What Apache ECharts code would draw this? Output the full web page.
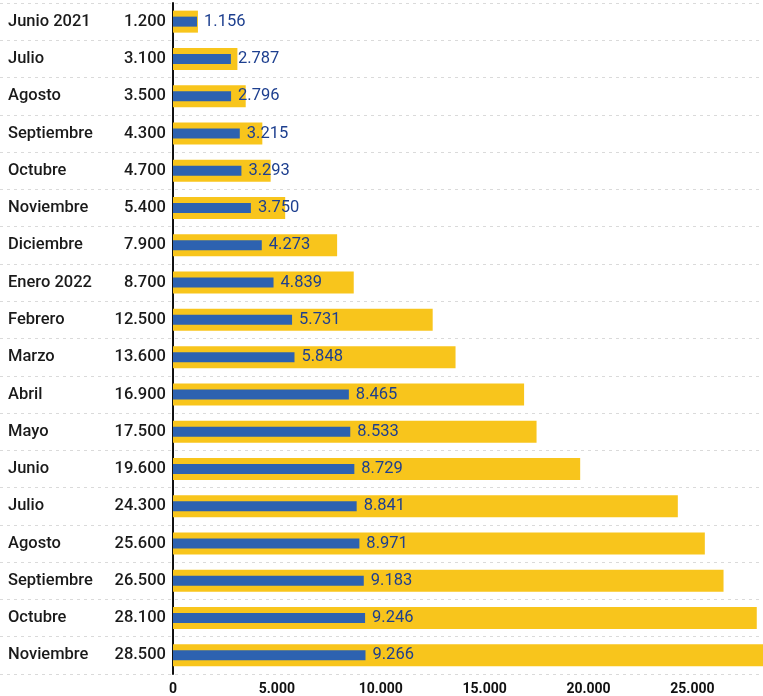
<!DOCTYPE html>
<html><head><meta charset="utf-8">
<script src="https://cdn.jsdelivr.net/npm/echarts@6/dist/echarts.min.js"></script>
<style>html,body{margin:0;padding:0;background:#fff}#c{width:763px;height:696px}</style>
</head><body><div id="c"></div>
<script>
const categories = ['Junio 2021','Julio','Agosto','Septiembre','Octubre','Noviembre','Diciembre','Enero 2022','Febrero','Marzo','Abril','Mayo','Junio','Julio','Agosto','Septiembre','Octubre','Noviembre'];
const yellowValues = [1200,3100,3500,4300,4700,5400,7900,8700,12500,13600,16900,17500,19600,24300,25600,26500,28100,28500];
const blueValues = [1156,2787,2796,3215,3293,3750,4273,4839,5731,5848,8465,8533,8729,8841,8971,9183,9246,9266];
const xTicks = [0,5000,10000,15000,20000,25000];

const fmt = v => String(v).replace(/\B(?=(\d{3})+(?!\d))/g, '.');
const FONT = 'Roboto';
const chart = echarts.init(document.getElementById('c'));
chart.setOption({
  animation:false,
  grid:[
    {left:173,right:0,top:3,bottom:22,containLabel:false},
    {left:0,right:0,top:3,bottom:22,containLabel:false}
  ],
  xAxis:[
    {type:'value',gridIndex:0,min:0,max:28400,interval:5000,
     axisLine:{show:false},axisTick:{show:false},splitLine:{show:false},
     axisLabel:{showMaxLabel:false,margin:8,color:'#111',fontFamily:FONT,fontWeight:'bold',fontSize:14,
       formatter:v=>xTicks.includes(v)?fmt(v):''}},
    {type:'value',gridIndex:1,show:false,min:0,max:1}
  ],
  yAxis:[
    {type:'category',gridIndex:0,data:categories,inverse:true,
     axisLine:{show:true,lineStyle:{color:'#111',width:2}},axisTick:{show:false},
     splitLine:{show:false},
     axisLabel:{align:'left',margin:165,color:'#1a1a1a',fontFamily:FONT,fontSize:16.5,fontWeight:500}},
    {type:'category',gridIndex:1,data:categories,inverse:true,
     axisLine:{show:false},axisTick:{show:false},axisLabel:{show:false},
     splitLine:{show:true,lineStyle:{color:'#dadada',type:[3,4],width:1}}},
    {type:'category',gridIndex:0,data:categories,inverse:true,show:false}
  ],
  series:[
    {type:'bar',xAxisIndex:0,yAxisIndex:0,data:yellowValues,barWidth:22,
     itemStyle:{color:'#f8c51c'},
     label:{show:true,position:'left',distance:7,color:'#1a1a1a',fontFamily:FONT,fontSize:16.5,fontWeight:500,
       formatter:p=>fmt(p.value)}},
    {type:'bar',xAxisIndex:0,yAxisIndex:2,data:blueValues,barWidth:10,
     itemStyle:{color:'#2d62b0'},
     label:{show:true,position:'right',distance:7,color:'#1d3f8f',fontFamily:FONT,fontSize:16.5,
       formatter:p=>fmt(p.value)}},
    {type:'bar',xAxisIndex:1,yAxisIndex:1,data:[],silent:true}
  ]
});
</script></body></html>
